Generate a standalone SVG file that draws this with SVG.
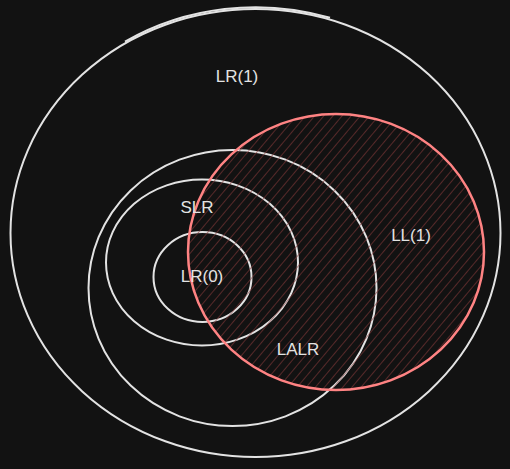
<svg xmlns="http://www.w3.org/2000/svg" width="510" height="469" viewBox="0 0 510 469">
<defs>
<pattern id="hatch" width="7" height="7" patternUnits="userSpaceOnUse" patternTransform="rotate(40)">
<line x1="0" y1="0" x2="0" y2="7" stroke="#853838" stroke-width="1.2"/>
</pattern>
<style>
.set{fill:none;stroke:#e3e3e3;stroke-width:2}
.ll{fill:url(#hatch);stroke:#ff8383;stroke-width:2.5}
.lbl{font-family:"Liberation Sans",Arial,sans-serif;font-size:17px;fill:#e3e3e3;text-anchor:middle;dominant-baseline:central}
</style>
</defs>
<rect width="510" height="469" fill="#121212"/>
<g id="lr1">
<ellipse class="set" cx="255.5" cy="233" rx="245" ry="224"/>
<path class="set" stroke-width="1" d="M125,41.6 A245 224 0 0 1 330,17.8"/>
</g>
<g id="lalr">
<ellipse class="set" cx="232.5" cy="288" rx="144" ry="138"/>
</g>
<g id="slr">
<ellipse class="set" cx="202" cy="262.5" rx="96" ry="83"/>
</g>
<g id="lr0">
<ellipse class="set" cx="202.5" cy="277" rx="49" ry="45"/>
</g>
<g id="ll1">
<ellipse class="ll" cx="336" cy="252" rx="148" ry="138"/>
</g>
<g id="connectors"/>
<g id="labels">
<text class="lbl" x="237" y="76">LR(1)</text>
<text class="lbl" x="197" y="207">SLR</text>
<text class="lbl" x="202" y="276">LR(0)</text>
<text class="lbl" x="411" y="235">LL(1)</text>
<text class="lbl" x="298" y="349">LALR</text>
</g>
</svg>
